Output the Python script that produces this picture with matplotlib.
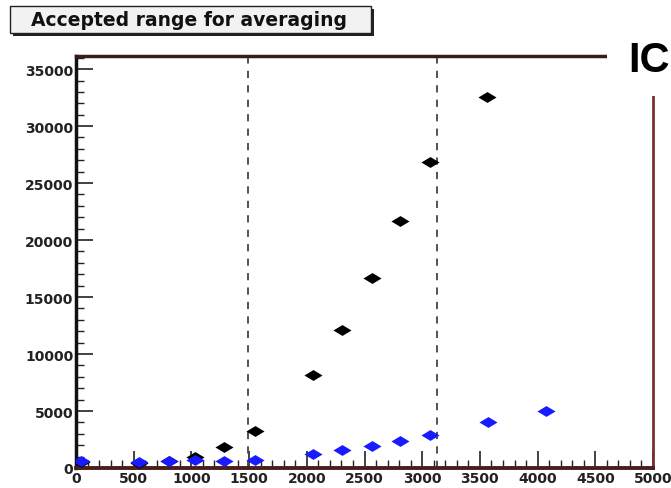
import matplotlib
matplotlib.use("Agg")
import matplotlib.pyplot as plt
from matplotlib.path import Path
from matplotlib.ticker import MultipleLocator

black_x = [43, 546, 806, 1031, 1283, 1551, 2054, 2305, 2565, 2808, 3068, 3560]
black_y = [500, 450, 600, 960, 1840, 3250, 8160, 12100, 16670, 21670, 26840, 32540]
blue_x = [43, 546, 806, 1031, 1283, 1551, 2054, 2305, 2565, 2808, 3068, 3570, 4073]
blue_y = [600, 550, 580, 700, 600, 700, 1230, 1580, 1930, 2370, 2900, 4030, 5000]
range_lo, range_hi = 1490, 3125
title = "Accepted range for averaging"

plt.rcParams['font.family'] = ['DejaVu Sans']

W, H = 671, 489
fig = plt.figure(figsize=(W / 100, H / 100), dpi=100)
ax = fig.add_axes([76 / W, 1 - 469 / H, (653 - 76) / W, (469 - 57) / H])

diamond = Path([(-1, 0), (0, 0.6), (1, 0), (0, -0.6), (-1, 0)],
               [Path.MOVETO, Path.LINETO, Path.LINETO, Path.LINETO, Path.CLOSEPOLY])

ax.scatter(black_x, black_y, marker=diamond, s=170, color='black', zorder=3, linewidths=0)
ax.scatter(blue_x, blue_y, marker=diamond, s=170, color='#1a1aff', zorder=4, linewidths=0)

for xv in (range_lo, range_hi):
    ax.axvline(xv, color='#444444', lw=1.3, ls=(0, (4, 4)), zorder=2)

ax.set_xlim(0, 5000)
ax.set_ylim(0, 36150)
ax.xaxis.set_major_locator(MultipleLocator(500))
ax.xaxis.set_minor_locator(MultipleLocator(100))
ax.yaxis.set_major_locator(MultipleLocator(5000))
ax.yaxis.set_minor_locator(MultipleLocator(1000))

ax.tick_params(axis='both', which='major', direction='in', length=12, width=1.2,
               labelsize=10, colors='#222222', pad=2)
ax.tick_params(axis='both', which='minor', direction='in', length=6, width=1.0, colors='#222222')
for lab in ax.get_xticklabels() + ax.get_yticklabels():
    lab.set_fontweight('bold')

ax.spines['left'].set_color('#111111')
ax.spines['left'].set_linewidth(2.5)
ax.spines['bottom'].set_color('#4a1e1e')
ax.spines['bottom'].set_linewidth(2.8)
ax.spines['top'].set_color('#3a1a1a')
ax.spines['top'].set_linewidth(2.5)
ax.spines['right'].set_color('#7a3030')
ax.spines['right'].set_linewidth(2.0)

# Title box with shadow
fig.patches.append(plt.Rectangle((13 / W, 1 - 37 / H), 361 / W, 27 / H, transform=fig.transFigure,
                                 facecolor='#222222', edgecolor='none'))
fig.patches.append(plt.Rectangle((10 / W, 1 - 34 / H), 361 / W, 27 / H, transform=fig.transFigure,
                                 facecolor='#f2f2f2', edgecolor='#222222', lw=1.0))
fig.text(189 / W, 1 - 21 / H, title, fontsize=13.5, fontweight='bold', va='center', ha='center',
         color='#111111')

# IC label covering corner
fig.patches.append(plt.Rectangle((607 / W, 1 - 97 / H), 64 / W, 97 / H, transform=fig.transFigure,
                                 facecolor='white', edgecolor='none', zorder=5))
fig.text(628 / W, 1 - 61 / H, "IC", fontsize=30, fontweight='bold', va='center', ha='left',
         family=['Liberation Sans'], zorder=6)

fig.savefig("out.png", dpi=100)
